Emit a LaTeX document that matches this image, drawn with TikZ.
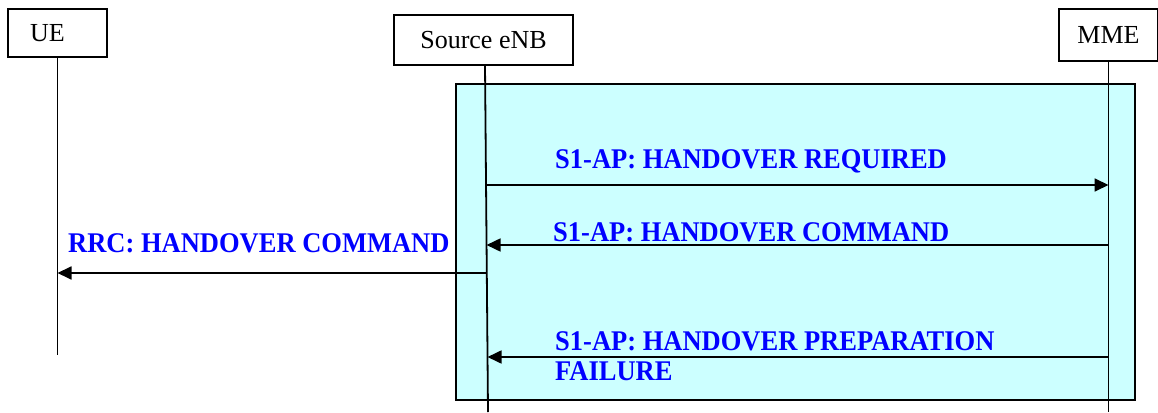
\documentclass[tikz,border=0pt]{standalone}
\usepackage{fontspec}
\setmainfont{Liberation Serif}
\newfontfamily\msgfont[FakeStretch=0.93]{Liberation Serif}
\usetikzlibrary{arrows.meta,calc}
\definecolor{boxcyan}{HTML}{CCFFFF}
\definecolor{msgblue}{RGB}{0,0,255}
\begin{document}
\begin{tikzpicture}[x=1pt,y=-1pt,
  actor/.style={draw,line width=1.4pt,inner sep=0pt,font=\rmfamily\fontsize{26}{28}\selectfont},
  life/.style={line width=1.8pt},
  msg/.style={line width=1.8pt,-{Triangle[length=14pt,width=13pt]}},
  msglabel/.style={anchor=base west,inner sep=0pt,text=msgblue,align=left,
    font=\msgfont\bfseries\fontsize{28.5}{30}\selectfont}]
\useasboundingbox (0,0) rectangle (1158,412);
% shaded procedure box
\node[draw,line width=1.8pt,fill=boxcyan,minimum width=679pt,minimum height=316pt,inner sep=0pt] (proc) at (795.5,242) {};
% actors
\node[actor,text width=55pt,inner xsep=22pt,minimum height=48pt,align=left] (ue) at (57.5,33) {UE};
\node[actor,minimum width=179pt,minimum height=50pt] (src) at (483.5,40) {Source eNB};
\node[actor,minimum width=99pt,minimum height=52pt] (mme) at (1108.5,35) {MME};
% lifelines
\coordinate (ueEnd) at (57,355);
\coordinate (srcTop) at (485,65);
\coordinate (srcEnd) at (488,412);
\coordinate (mmeEnd) at (1110,412);
\draw[life] (ue.south) ++(0,0) coordinate (ueTop) -- (ueTop |- ueEnd);
\draw[life] (srcTop) -- (srcEnd);
\draw[life] (mme.south) ++(0,0) coordinate (mmeTop) -- (mmeTop |- mmeEnd);
% message end points
\coordinate (s1) at ($(srcTop)!{(185-65)/347}!(srcEnd)$);
\coordinate (m1) at (mmeTop |- s1);
\coordinate (s2) at ($(srcTop)!{(245-65)/347}!(srcEnd)$);
\coordinate (m2) at (mmeTop |- s2);
\coordinate (s3) at ($(srcTop)!{(273-65)/347}!(srcEnd)$);
\coordinate (u3) at (ueTop |- s3);
\coordinate (s4) at ($(srcTop)!{(357-65)/347}!(srcEnd)$);
\coordinate (m4) at (mmeTop |- s4);
% messages
\draw[msg] (s1) -- (m1);
\draw[msg] (m2) -- (s2);
\draw[msg] (s3) -- (u3);
\draw[msg] (m4) -- (s4);
% labels
\node[msglabel] (l1) at (555,168) {S1-AP: HANDOVER REQUIRED};
\node[msglabel] (l2) at (553,241) {S1-AP: HANDOVER COMMAND};
\node[msglabel] (l3) at (68,252) {RRC: HANDOVER COMMAND};
\node[msglabel] (l4) at (555,380) {S1-AP: HANDOVER PREPARATION\\FAILURE};
\end{tikzpicture}
\end{document}
